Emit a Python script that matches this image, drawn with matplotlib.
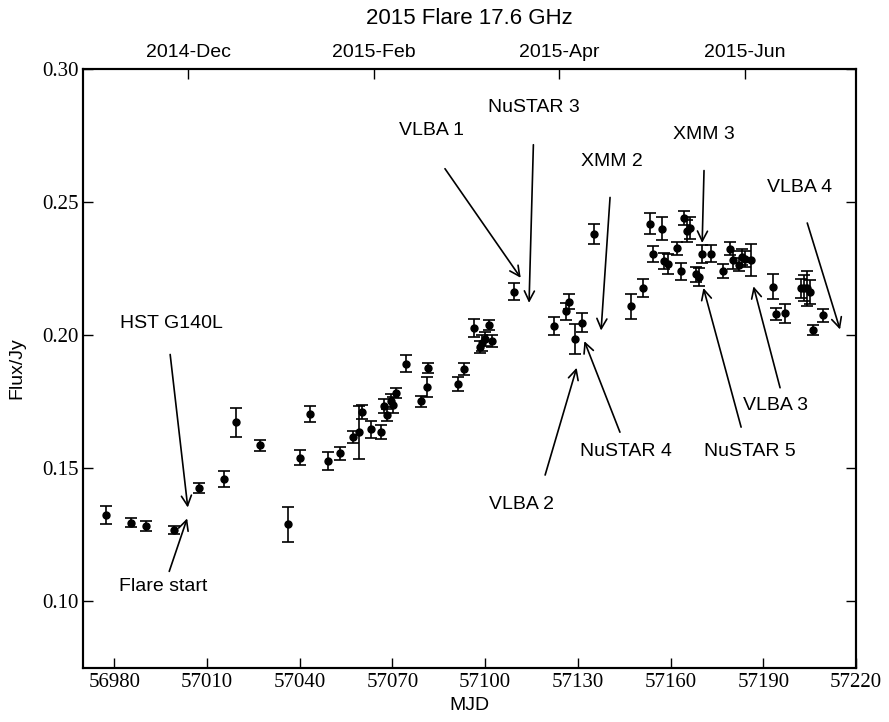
import matplotlib
matplotlib.use("Agg")
import matplotlib.pyplot as plt

# 17.6 GHz light curve
mjd = [56977.3, 56985.3, 56990.3, 56999.3, 57007.4, 57015.5, 57019.4, 57027.3,
       57036.3, 57040.1, 57043.3, 57049.2, 57053.2, 57057.2, 57059.3, 57060.3,
       57063.2, 57066.2, 57067.3, 57068.3, 57069.4, 57070.1, 57071.2, 57074.3,
       57079.3, 57081.1, 57081.6, 57091.2, 57093.3, 57096.3, 57098.2, 57099.1,
       57100.0, 57101.2, 57102.3, 57109.3, 57122.2, 57126.1, 57127.2, 57129.2,
       57131.4, 57135.2, 57147.3, 57151.2, 57153.2, 57154.2, 57157.3, 57158.0,
       57159.2, 57162.1, 57163.3, 57164.4, 57165.3, 57166.2, 57168.1, 57169.1,
       57170.3, 57173.1, 57177.0, 57179.2, 57180.2, 57182.2, 57183.1, 57184.1,
       57186.0, 57193.1, 57194.1, 57197.1, 57202.3, 57203.3, 57204.1, 57205.1,
       57206.1, 57209.2]
flux = [0.1326, 0.1296, 0.1282, 0.1269, 0.1426, 0.1461, 0.1673, 0.1586,
        0.1290, 0.1540, 0.1704, 0.1527, 0.1557, 0.1617, 0.1636, 0.1712,
        0.1647, 0.1636, 0.1734, 0.1701, 0.1754, 0.1738, 0.1783, 0.1893,
        0.1752, 0.1806, 0.1877, 0.1817, 0.1873, 0.2028, 0.1956, 0.1971,
        0.1986, 0.2038, 0.1979, 0.2164, 0.2034, 0.2090, 0.2127, 0.1987,
        0.2048, 0.2380, 0.2110, 0.2178, 0.2420, 0.2305, 0.2400, 0.2279,
        0.2268, 0.2327, 0.2240, 0.2442, 0.2391, 0.2402, 0.2229, 0.2220,
        0.2305, 0.2307, 0.2242, 0.2325, 0.2282, 0.2266, 0.2293, 0.2285,
        0.2283, 0.2183, 0.2079, 0.2082, 0.2176, 0.2178, 0.2176, 0.2162,
        0.2019, 0.2075]
flux_err = [0.0034, 0.0018, 0.0019, 0.0015, 0.0020, 0.0030, 0.0054, 0.0020,
            0.0066, 0.0029, 0.0031, 0.0033, 0.0024, 0.0023, 0.0100, 0.0025,
            0.0032, 0.0026, 0.0026, 0.0022, 0.0025, 0.0030, 0.0018, 0.0032,
            0.0021, 0.0038, 0.0018, 0.0026, 0.0022, 0.0035, 0.0024, 0.0030,
            0.0028, 0.0018, 0.0024, 0.0031, 0.0034, 0.0033, 0.0028, 0.0056,
            0.0035, 0.0037, 0.0047, 0.0034, 0.0038, 0.0031, 0.0043, 0.0031,
            0.0037, 0.0024, 0.0033, 0.0026, 0.0042, 0.0041, 0.0029, 0.0033,
            0.0034, 0.0031, 0.0026, 0.0024, 0.0034, 0.0026, 0.0030, 0.0030,
            0.0060, 0.0046, 0.0022, 0.0037, 0.0036, 0.0049, 0.0066, 0.0046,
            0.0019, 0.0025]

# observation labels: text position, arrow tail, arrow head (MJD, Jy)
obs_names = ["HST G140L", "Flare start", "VLBA 1", "NuSTAR 3", "XMM 2", "XMM 3",
             "VLBA 4", "VLBA 2", "NuSTAR 4", "NuSTAR 5", "VLBA 3"]
obs_text = [(56998.6, 0.2044), (56995.7, 0.1055), (57082.8, 0.2768), (57115.6, 0.2856),
            (57140.9, 0.2653), (57170.6, 0.2753), (57201.6, 0.2556), (57111.6, 0.1366),
            (57145.6, 0.1564), (57185.7, 0.1564), (57193.8, 0.1737)]
obs_tail = [(56998.1, 0.1928), (56997.8, 0.1113), (57087.0, 0.2626), (57115.6, 0.2716),
            (57140.4, 0.2518), (57170.8, 0.2619), (57204.2, 0.2422), (57119.4, 0.1475),
            (57143.6, 0.1636), (57182.8, 0.1655), (57195.4, 0.1803)]
obs_head = [(57003.8, 0.1353), (57003.6, 0.1312), (57111.5, 0.2216), (57114.2, 0.2122),
            (57137.5, 0.2018), (57170.2, 0.2347), (57214.8, 0.2022), (57129.6, 0.1878),
            (57132.1, 0.1978), (57170.6, 0.2178), (57186.8, 0.2184)]

mjd_ticks = [56980, 57010, 57040, 57070, 57100, 57130, 57160, 57190, 57220]
flux_ticks = [0.10, 0.15, 0.20, 0.25, 0.30]
month_ticks = [57004, 57064, 57124, 57184]
month_labels = ["2014-Dec", "2015-Feb", "2015-Apr", "2015-Jun"]

plt.rcParams["font.family"] = "Liberation Sans"

fig = plt.figure(figsize=(8.89, 7.22), dpi=100)
ax = fig.add_axes([0.0937, 0.0748, 0.8693, 0.8294])

ax.errorbar(mjd, flux, yerr=flux_err, fmt="o", color="black", ms=5,
            elinewidth=1.2, capsize=4, capthick=1.2)

for name, t, a, h in zip(obs_names, obs_text, obs_tail, obs_head):
    ax.text(t[0], t[1], name, ha="center", va="center", fontsize=14)
    ax.annotate("", xy=h, xytext=a,
                arrowprops=dict(arrowstyle="->", color="black", lw=1.2,
                                mutation_scale=18, shrinkA=0, shrinkB=0))

ax.set_xlim(56970, 57220)
ax.set_ylim(0.075, 0.30)
ax.set_xticks(mjd_ticks)
ax.set_yticks(flux_ticks)
ax.set_xticklabels([str(v) for v in mjd_ticks], family="Liberation Serif", fontsize=15)
ax.set_yticklabels(["%.2f" % v for v in flux_ticks], family="Liberation Serif", fontsize=15)
ax.tick_params(direction="in", length=7, width=1, right=True, top=False)
ax.set_xlabel("MJD", fontsize=14, labelpad=4)
ax.set_ylabel("Flux/Jy", fontsize=14, labelpad=12)

ax2 = ax.twiny()
ax2.set_xlim(ax.get_xlim())
ax2.set_xticks(month_ticks)
ax2.set_xticklabels(month_labels, fontsize=14)
ax2.tick_params(direction="in", length=7, width=1, pad=6)
ax2.set_title("2015 Flare 17.6 GHz", fontsize=16, pad=14)

for a in (ax, ax2):
    for s in a.spines.values():
        s.set_linewidth(1.5)

fig.savefig("out.png", dpi=100)
